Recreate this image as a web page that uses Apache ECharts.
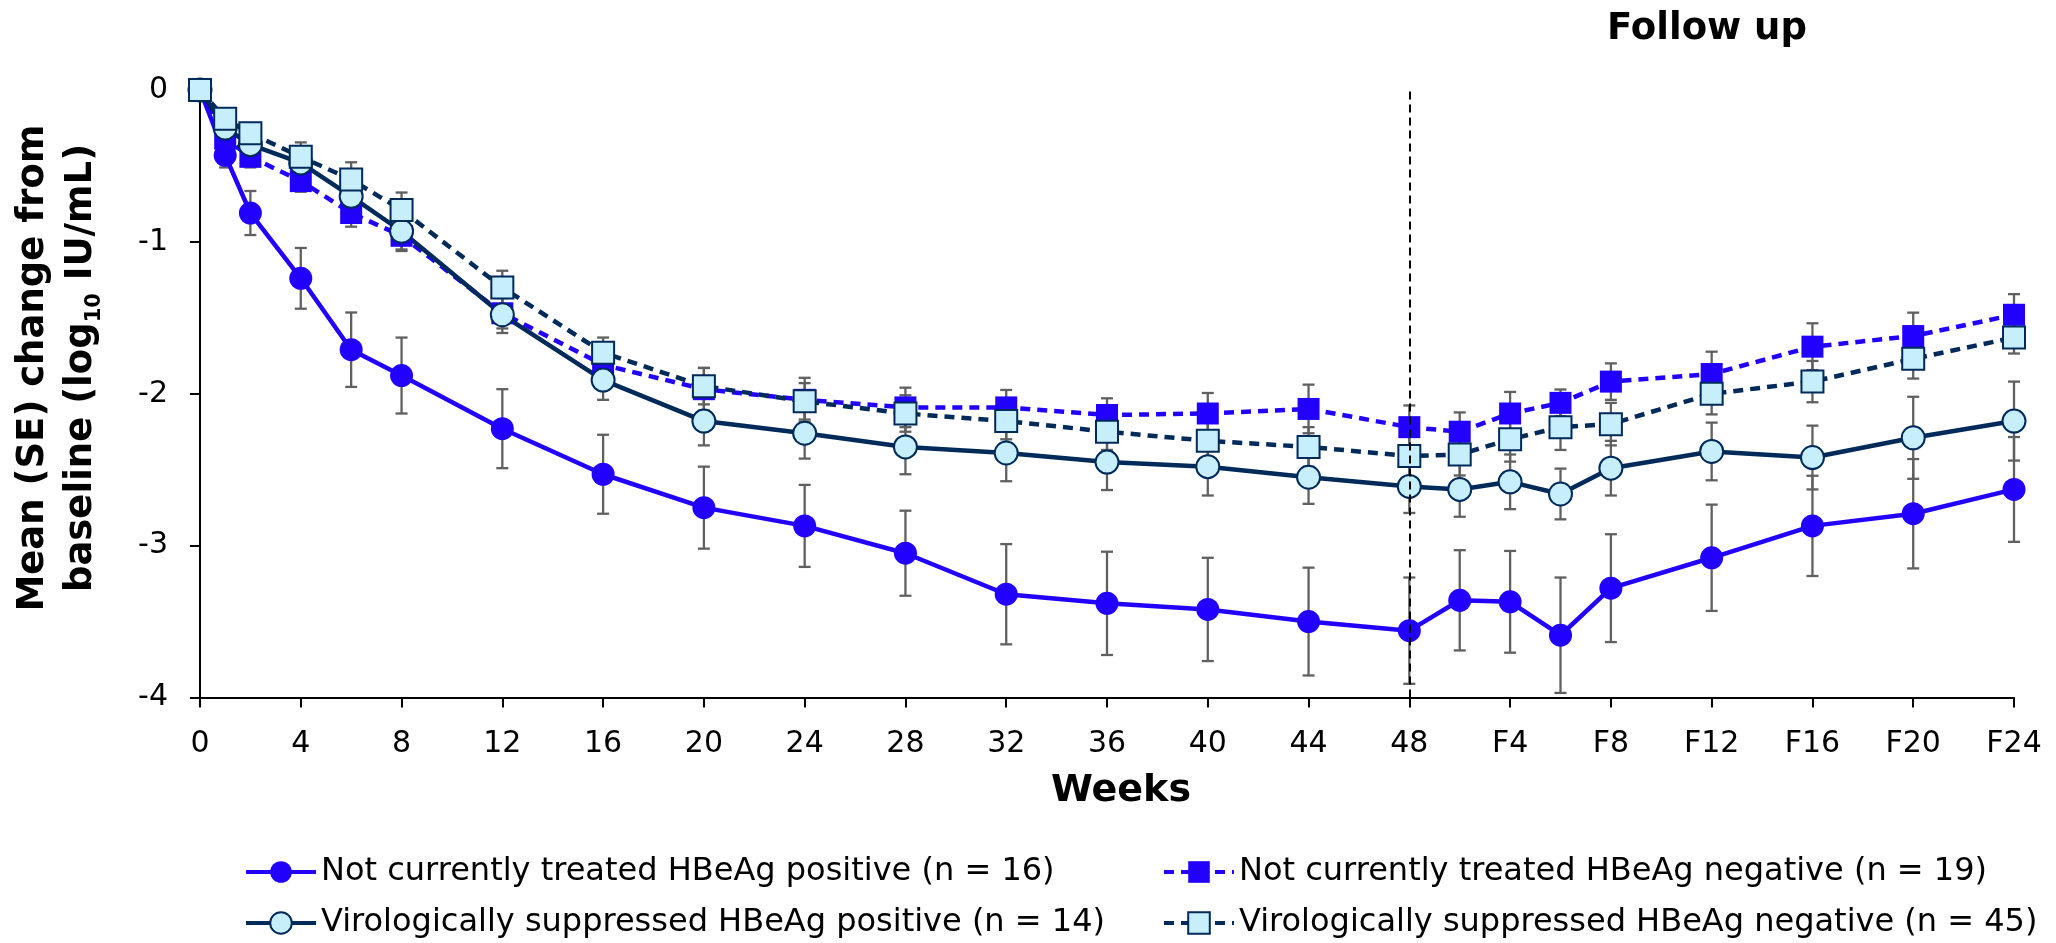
<!DOCTYPE html>
<html>
<head>
<meta charset="utf-8">
<title>HBsAg change from baseline</title>
<script src="https://cdn.jsdelivr.net/npm/echarts@6/dist/echarts.min.js"></script>
<style>
  html, body { margin: 0; padding: 0; background: #fff; }
  #chart { width: 2056px; height: 943px; }
</style>
</head>
<body>
<div id="chart"></div>
<script>
// weeks on treatment, follow-up weeks continue after 48 (F2 = 50, F4 = 52 ...)
const weeks = [0, 1, 2, 4, 6, 8, 12, 16, 20, 24, 28, 32, 36, 40, 44, 48, 50, 52, 54, 56, 60, 64, 68, 72];
const tickLabels = ['0', '4', '8', '12', '16', '20', '24', '28', '32', '36', '40', '44', '48',
  'F4', 'F8', 'F12', 'F16', 'F20', 'F24'];

const names = [
  'Not currently treated HBeAg positive (n = 16)',
  'Not currently treated HBeAg negative (n = 19)',
  'Virologically suppressed HBeAg positive (n = 14)',
  'Virologically suppressed HBeAg negative (n = 45)'
];

// mean change, log10 IU/mL
const naivePos = [0, -0.43, -0.81, -1.24, -1.71, -1.88, -2.23, -2.53, -2.75, -2.87, -3.05, -3.32,
  -3.38, -3.42, -3.50, -3.56, -3.36, -3.37, -3.59, -3.28, -3.08, -2.87, -2.79, -2.63];
const naiveNeg = [0, -0.32, -0.44, -0.60, -0.81, -0.96, -1.47, -1.81, -1.97, -2.04, -2.09, -2.09,
  -2.14, -2.13, -2.10, -2.22, -2.25, -2.13, -2.06, -1.92, -1.87, -1.69, -1.62, -1.48];
const suppPos = [0, -0.25, -0.36, -0.48, -0.70, -0.93, -1.48, -1.91, -2.18, -2.26, -2.35, -2.39,
  -2.45, -2.48, -2.55, -2.61, -2.63, -2.58, -2.66, -2.49, -2.38, -2.42, -2.29, -2.18];
const suppNeg = [0, -0.19, -0.285, -0.44, -0.59, -0.79, -1.30, -1.73, -1.95, -2.05, -2.13, -2.18,
  -2.25, -2.31, -2.35, -2.41, -2.40, -2.30, -2.22, -2.20, -2.00, -1.92, -1.77, -1.63];

// standard errors
const naivePosSE = [0, 0.08, 0.145, 0.20, 0.245, 0.25, 0.26, 0.26, 0.27, 0.27, 0.28, 0.33,
  0.34, 0.34, 0.355, 0.35, 0.33, 0.335, 0.38, 0.355, 0.35, 0.33, 0.36, 0.345];
const naiveNegSE = [0, 0.06, 0.07, 0.07, 0.09, 0.10, 0.10, 0.12, 0.14, 0.145, 0.13, 0.115,
  0.11, 0.135, 0.16, 0.143, 0.127, 0.142, 0.088, 0.12, 0.147, 0.154, 0.154, 0.136];
const suppPosSE = [0, 0.05, 0.07, 0.08, 0.10, 0.12, 0.12, 0.13, 0.16, 0.167, 0.18, 0.186,
  0.184, 0.19, 0.175, 0.175, 0.18, 0.18, 0.167, 0.18, 0.19, 0.21, 0.27, 0.26];
const suppNegSE = [0, 0.05, 0.06, 0.095, 0.114, 0.115, 0.11, 0.10, 0.12, 0.12, 0.12, 0.12,
  0.12, 0.13, 0.13, 0.14, 0.138, 0.147, 0.15, 0.14, 0.136, 0.136, 0.13, 0.105];

const BLUE = '#2200ff';
const NAVY = '#002a5a';
const LIGHT = '#c6eefb';
const GREY = '#606060';
const FONT = 'DejaVu Sans';

function points(values) {
  return weeks.map(function (w, i) { return [w, values[i]]; });
}

function lineSeries(name, values, color, dashed, symbol, fill, size) {
  return {
    name: name,
    type: 'line',
    data: points(values),
    symbol: symbol,
    symbolSize: size,
    showAllSymbol: true,
    z: 3,
    lineStyle: { color: color, width: 4.5, type: dashed ? [10, 7] : 'solid' },
    itemStyle: {
      color: fill,
      borderColor: fill === LIGHT ? NAVY : fill,
      borderWidth: fill === LIGHT ? 2 : 0
    },
    emphasis: { disabled: true },
    animation: false
  };
}

function errorSeries(id, values, se) {
  return {
    name: id,
    type: 'custom',
    z: 2,
    silent: true,
    animation: false,
    data: weeks.map(function (w, i) { return [w, values[i], se[i]]; }),
    renderItem: function (params, api) {
      const x = api.value(0), y = api.value(1), e = api.value(2);
      if (!e) return null;
      const hi = api.coord([x, y + e]);
      const lo = api.coord([x, y - e]);
      const cap = 6;
      const style = { stroke: GREY, lineWidth: 2.3 };
      return {
        type: 'group',
        children: [
          { type: 'line', shape: { x1: hi[0], y1: hi[1], x2: lo[0], y2: lo[1] }, style: style },
          { type: 'line', shape: { x1: hi[0] - cap, y1: hi[1], x2: hi[0] + cap, y2: hi[1] }, style: style },
          { type: 'line', shape: { x1: lo[0] - cap, y1: lo[1], x2: lo[0] + cap, y2: lo[1] }, style: style }
        ]
      };
    }
  };
}

// one legend box per entry, laid out as two rows of two
function legendItem(name, left, top) {
  return {
    data: [name],
    left: left,
    top: top,
    padding: 0,
    itemWidth: 70,
    itemHeight: 27,
    lineStyle: { width: 4 },
    textStyle: { fontSize: 32, color: '#000', fontFamily: FONT, lineHeight: 36 },
    selectedMode: false
  };
}

const chart = echarts.init(document.getElementById('chart'));

const seriesD = lineSeries(names[3], suppNeg, NAVY, true, 'rect', LIGHT, 22);
seriesD.markLine = {
  silent: true,
  symbol: 'none',
  animation: false,
  label: { show: false },
  lineStyle: { color: '#000', width: 2, type: [8, 5] },
  data: [{ xAxis: 48 }]
};

chart.setOption({
  animation: false,
  backgroundColor: '#fff',
  textStyle: { fontFamily: FONT },
  grid: { left: 200, right: 42, top: 90, bottom: 245.5, outerBoundsMode: 'none' },
  xAxis: {
    type: 'value',
    min: 0,
    max: 72,
    interval: 4,
    name: 'Weeks',
    nameLocation: 'middle',
    nameGap: 75,
    nameTextStyle: { fontFamily: FONT, fontWeight: 'bold', fontSize: 38, color: '#000', padding: [0, 0, 0, 28] },
    axisLine: { onZero: false, lineStyle: { color: '#000', width: 2 } },
    axisTick: { length: 10, lineStyle: { color: '#000', width: 2 } },
    axisLabel: {
      margin: 32,
      fontSize: 30,
      color: '#000',
      fontFamily: FONT,
      formatter: function (v) { return tickLabels[Math.round(v / 4)]; }
    },
    splitLine: { show: false }
  },
  yAxis: {
    type: 'value',
    min: -4,
    max: 0,
    interval: 1,
    axisLine: { show: true, onZero: false, lineStyle: { color: '#000', width: 2 } },
    axisTick: { show: true, length: 10, lineStyle: { color: '#000', width: 2 } },
    axisLabel: { margin: 32, fontSize: 30, color: '#000', fontFamily: FONT },
    splitLine: { show: false }
  },
  legend: [
    legendItem(names[0], 244, 854),
    legendItem(names[1], 1162, 854),
    legendItem(names[2], 244, 905),
    legendItem(names[3], 1162, 905)
  ],
  graphic: [
    {
      type: 'text',
      x: 57,
      y: 368,
      rotation: Math.PI / 2,
      style: {
        text: '{b|Mean (SE) change from}\n{b|baseline (log}{s|10}{b| IU/mL)}',
        align: 'center',
        verticalAlign: 'middle',
        fill: '#000',
        rich: {
          b: { fontFamily: FONT, fontWeight: 'bold', fontSize: 37, lineHeight: 48 },
          s: { fontFamily: FONT, fontWeight: 'bold', fontSize: 21, lineHeight: 24, verticalAlign: 'bottom' }
        }
      }
    },
    {
      type: 'text',
      x: 1707,
      y: 29,
      style: {
        text: 'Follow up',
        align: 'center',
        verticalAlign: 'middle',
        fill: '#000',
        fontFamily: FONT,
        fontWeight: 'bold',
        fontSize: 37
      }
    }
  ],
  series: [
    errorSeries('errA', naivePos, naivePosSE),
    errorSeries('errB', naiveNeg, naiveNegSE),
    errorSeries('errC', suppPos, suppPosSE),
    errorSeries('errD', suppNeg, suppNegSE),
    lineSeries(names[0], naivePos, BLUE, false, 'circle', BLUE, 23),
    lineSeries(names[1], naiveNeg, BLUE, true, 'rect', BLUE, 22),
    lineSeries(names[2], suppPos, NAVY, false, 'circle', LIGHT, 23),
    seriesD
  ]
});
</script>
</body>
</html>
